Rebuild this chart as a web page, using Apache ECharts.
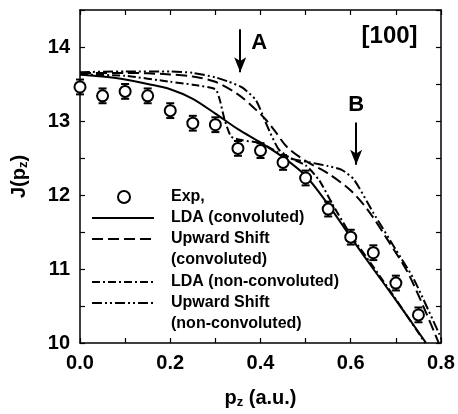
<!DOCTYPE html>
<html>
<head>
<meta charset="utf-8">
<script src="https://cdn.jsdelivr.net/npm/echarts@6/dist/echarts.min.js"></script>
<style>
  html, body { margin: 0; padding: 0; background: #fff; }
  #chart { width: 458px; height: 414px; }
</style>
</head>
<body>
<div id="chart"></div>
<script>
// experimental points
var expX = [0.0, 0.05, 0.1, 0.15, 0.2, 0.25, 0.3, 0.35, 0.4, 0.45, 0.5, 0.55, 0.6, 0.65, 0.7, 0.75]
var expY = [13.46, 13.34, 13.40, 13.34, 13.14, 12.97, 12.95, 12.63, 12.60, 12.44, 12.23, 11.81, 11.43, 11.22, 10.81, 10.38]
var expErr = [0.1, 0.1, 0.1, 0.1, 0.1, 0.1, 0.1, 0.1, 0.1, 0.1, 0.1, 0.1, 0.1, 0.1, 0.1, 0.1]

// LDA (convoluted)
var ldaConvX = [0, 0.05, 0.1, 0.15, 0.2, 0.25, 0.3, 0.35, 0.4, 0.45, 0.5, 0.55, 0.6, 0.65, 0.7, 0.767]
var ldaConvY = [13.63, 13.60, 13.56, 13.50, 13.43, 13.30, 13.10, 12.89, 12.71, 12.51, 12.26, 11.87, 11.43, 11.0, 10.58, 10.0]

// Upward Shift (convoluted)
var upConvX = [0, 0.1, 0.2, 0.25, 0.3, 0.35, 0.385, 0.41, 0.43, 0.46, 0.5, 0.55, 0.6, 0.64, 0.68, 0.73, 0.795]
var upConvY = [13.65, 13.65, 13.63, 13.60, 13.53, 13.36, 13.18, 13.03, 12.88, 12.64, 12.46, 12.29, 12.06, 11.78, 11.41, 10.91, 10.0]

// LDA (non-convoluted)
var ldaRawX = [0, 0.1, 0.2, 0.25, 0.3, 0.31, 0.32, 0.335, 0.36, 0.4, 0.45, 0.5, 0.53, 0.56, 0.6, 0.65, 0.7, 0.765]
var ldaRawY = [13.63, 13.61, 13.53, 13.49, 13.43, 13.28, 13.03, 12.79, 12.74, 12.70, 12.54, 12.40, 12.20, 11.87, 11.46, 11.03, 10.59, 10.0]

// Upward Shift (non-convoluted)
var upRawX = [0, 0.1, 0.2, 0.25, 0.3, 0.33, 0.36, 0.39, 0.415, 0.44, 0.47, 0.51, 0.55, 0.58, 0.607, 0.65, 0.7, 0.74, 0.805]
var upRawY = [13.66, 13.67, 13.67, 13.65, 13.59, 13.53, 13.45, 13.28, 12.93, 12.62, 12.49, 12.44, 12.39, 12.34, 12.21, 11.76, 11.26, 10.86, 10.0]

var xTicks = [0, 0.8, 0.1]
var yTicks = [10, 14.5, 0.5]

function pairs(xs, ys) {
  return xs.map(function (x, i) { return [x, ys[i]] })
}

var font = 'Liberation Sans, Arial, sans-serif'
var chart = echarts.init(document.getElementById('chart'))

var axisBase = {
  type: 'value',
  axisLine: { show: true, onZero: false, lineStyle: { color: '#000', width: 1.5 } },
  axisTick: { show: true, inside: true, length: 5, lineStyle: { color: '#000', width: 1.2 } },
  splitLine: { show: false }
}

// one legend per entry so the two-line labels keep their symbol on the first line
function legendFor(name, label, centerY, twoLines) {
  var isExp = name === 'Exp,'
  return {
    left: isExp ? 117 : 91,
    top: twoLines ? centerY - 31.5 : centerY - 10.5,
    padding: 0,
    itemWidth: isExp ? 12 : 62,
    itemHeight: 12,
    data: [name],
    formatter: function () { return twoLines ? ' \n' + label : label },
    selectedMode: false,
    itemStyle: isExp ? {} : { opacity: 0 },
    textStyle: {
      fontFamily: font,
      fontWeight: 'bold',
      fontSize: 16,
      color: '#000',
      lineHeight: 21,
      padding: [0, 0, 0, isExp ? 36 : 12]
    }
  }
}

chart.setOption({
  animation: false,
  backgroundColor: '#fff',
  grid: { left: 80, right: 17, top: 10, bottom: 71, outerBoundsMode: 'none' },
  legend: [
    legendFor('Exp,', 'Exp,', 197, false),
    legendFor('LDA (convoluted)', 'LDA (convoluted)', 218, false),
    legendFor('Upward Shift (convoluted)', 'Upward Shift\n(convoluted)', 239, true),
    legendFor('LDA (non-convoluted)', 'LDA (non-convoluted)', 282, false),
    legendFor('Upward Shift (non-convoluted)', 'Upward Shift\n(non-convoluted)', 303, true)
  ],
  xAxis: [
    Object.assign({}, axisBase, {
      min: xTicks[0], max: xTicks[1], interval: xTicks[2],
      name: '{a|p}{s|z}{a| (a.u.)}',
      nameLocation: 'middle',
      nameGap: 44,
      nameTextStyle: {
        rich: {
          a: { fontFamily: font, fontWeight: 'bold', fontSize: 20, color: '#000' },
          s: { fontFamily: font, fontWeight: 'bold', fontSize: 13, color: '#000', padding: [9, 0, 0, 0] }
        }
      },
      axisLabel: {
        margin: 10,
        fontFamily: font, fontWeight: 'bold', fontSize: 20, color: '#000',
        formatter: function (v) {
          var k = Math.round(v * 10)
          return k % 2 === 0 ? (k / 10).toFixed(1) : ''
        }
      }
    }),
    Object.assign({}, axisBase, {
      position: 'top',
      min: xTicks[0], max: xTicks[1], interval: xTicks[2],
      axisLabel: { show: false }
    })
  ],
  yAxis: [
    Object.assign({}, axisBase, {
      min: yTicks[0], max: yTicks[1], interval: yTicks[2],
      name: '{a|J(p}{s|z}{a|)}',
      nameLocation: 'middle',
      nameGap: 50,
      nameTextStyle: {
        rich: {
          a: { fontFamily: font, fontWeight: 'bold', fontSize: 20, color: '#000' },
          s: { fontFamily: font, fontWeight: 'bold', fontSize: 13, color: '#000', padding: [9, 0, 0, 0] }
        }
      },
      axisLabel: {
        margin: 10,
        fontFamily: font, fontWeight: 'bold', fontSize: 20, color: '#000',
        formatter: function (v) {
          return Math.abs(v - Math.round(v)) < 1e-6 ? String(Math.round(v)) : ''
        }
      }
    }),
    Object.assign({}, axisBase, {
      position: 'right',
      min: yTicks[0], max: yTicks[1], interval: yTicks[2],
      axisLabel: { show: false }
    })
  ],
  series: [
    {
      name: 'LDA (convoluted)',
      type: 'line',
      data: pairs(ldaConvX, ldaConvY),
      smooth: 0.3,
      symbol: 'none',
      lineStyle: { color: '#000', width: 2, type: 'solid' },
      itemStyle: { color: '#000' }
    },
    {
      name: 'Upward Shift (convoluted)',
      type: 'line',
      data: pairs(upConvX, upConvY),
      smooth: 0.3,
      symbol: 'none',
      lineStyle: { color: '#000', width: 2, type: [11, 5] },
      itemStyle: { color: '#000' }
    },
    {
      name: 'LDA (non-convoluted)',
      type: 'line',
      data: pairs(ldaRawX, ldaRawY),
      smooth: 0.2,
      symbol: 'none',
      lineStyle: { color: '#000', width: 2, type: [8, 3, 2, 3] },
      itemStyle: { color: '#000' }
    },
    {
      name: 'Upward Shift (non-convoluted)',
      type: 'line',
      data: pairs(upRawX, upRawY),
      smooth: 0.2,
      symbol: 'none',
      lineStyle: { color: '#000', width: 2, type: [10, 3, 2, 3, 2, 3] },
      itemStyle: { color: '#000' }
    },
    {
      name: 'errors',
      type: 'custom',
      data: expX.map(function (x, i) { return [x, expY[i] - expErr[i], expY[i] + expErr[i]] }),
      renderItem: function (params, api) {
        var lo = api.coord([api.value(0), api.value(1)])
        var hi = api.coord([api.value(0), api.value(2)])
        var w = 4
        var st = { stroke: '#000', lineWidth: 2 }
        return {
          type: 'group',
          children: [
            { type: 'line', shape: { x1: lo[0], y1: lo[1], x2: hi[0], y2: hi[1] }, style: st },
            { type: 'line', shape: { x1: lo[0] - w, y1: lo[1], x2: lo[0] + w, y2: lo[1] }, style: st },
            { type: 'line', shape: { x1: hi[0] - w, y1: hi[1], x2: hi[0] + w, y2: hi[1] }, style: st }
          ]
        }
      },
      z: 3
    },
    {
      name: 'Exp,',
      type: 'scatter',
      data: pairs(expX, expY),
      symbol: 'emptyCircle',
      symbolSize: 11,
      itemStyle: { color: '#000', borderColor: '#000', borderWidth: 2, opacity: 1 },
      z: 4,
      markLine: {
        silent: true,
        symbol: ['none', 'arrow'],
        symbolSize: [9, 15],
        lineStyle: { color: '#000', width: 2, type: 'solid' },
        label: { show: false },
        data: [
          [{ coord: [0.355, 14.24] }, { coord: [0.355, 13.66] }],
          [{ coord: [0.612, 12.98] }, { coord: [0.612, 12.41] }]
        ]
      },
      markPoint: {
        silent: true,
        symbol: 'circle',
        symbolSize: 0,
        label: {
          show: true,
          position: 'inside',
          formatter: '{b}',
          fontFamily: font,
          fontWeight: 'bold',
          color: '#000'
        },
        data: [
          { name: 'A', coord: [0.397, 14.05], label: { fontSize: 22 } },
          { name: 'B', coord: [0.612, 13.22], label: { fontSize: 22 } },
          { name: '[100]', coord: [0.686, 14.14], label: { fontSize: 24 } }
        ]
      }
    }
  ]
})
</script>
</body>
</html>
